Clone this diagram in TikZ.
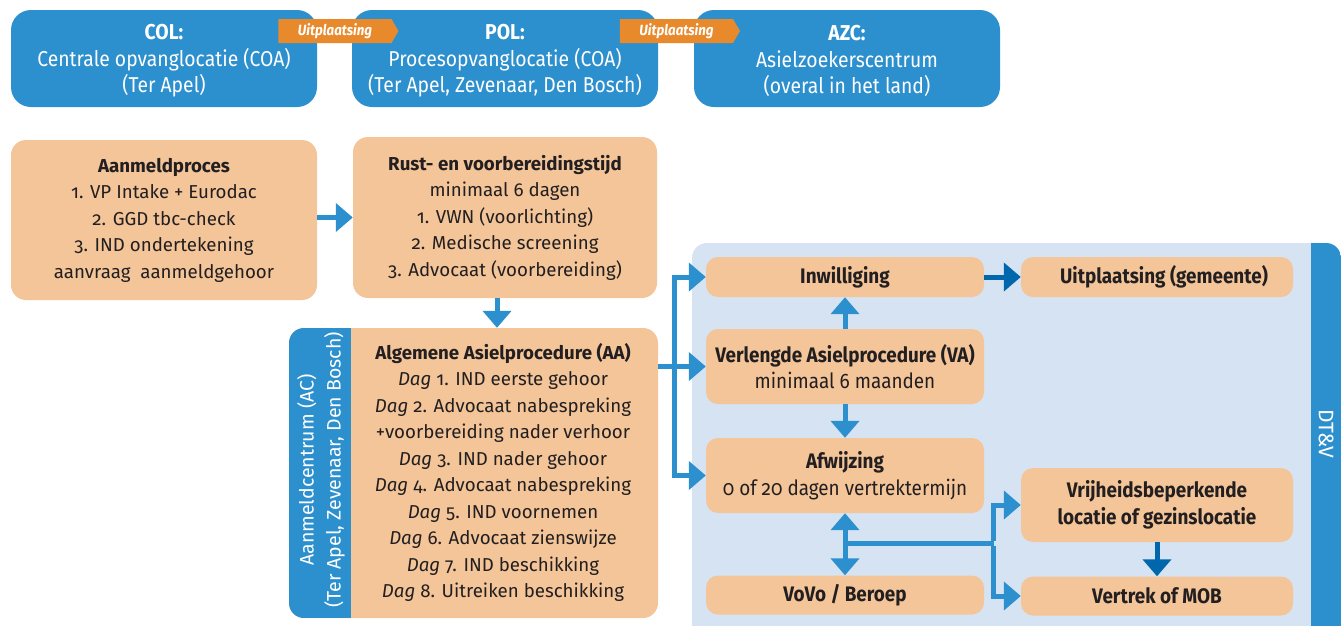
\documentclass[tikz,border=0pt]{standalone}
\usepackage{fontspec}
\setmainfont{Fira Sans}[Numbers=OldStyle]
\newfontfamily\condfont{Fira Sans}[FakeStretch=0.9,Numbers=OldStyle]
\usetikzlibrary{arrows.meta,shapes.symbols}
\definecolor{cblue}{HTML}{2C8FCE}
\definecolor{corange}{HTML}{F3C599}
\definecolor{lightbg}{HTML}{D6E3F3}
\definecolor{tagorange}{HTML}{E8892C}
\definecolor{darkarrow}{HTML}{0067AC}
\definecolor{txt}{HTML}{231F20}
\begin{document}
\begin{tikzpicture}[x=1pt,y=-1pt,
  bluebox/.style={fill=cblue, rounded corners=20pt, minimum width=306pt, minimum height=97pt,
    inner sep=0pt},
  bluetext/.style={text=white, align=center, inner sep=0pt, font=\condfont\fontsize{21.5}{26.5}\selectfont},
  obox/.style={fill=corange, rounded corners=15pt, inner sep=0pt, align=center, text=txt,
    font=\fontsize{18.7}{26.5}\selectfont},
  cbox/.style={obox, rounded corners=12pt, font=\condfont\fontsize{21}{26.5}\selectfont},
  tagbox/.style={signal, signal to=east, signal pointer angle=120, fill=tagorange, text=white,
    minimum width=120pt, minimum height=24pt, inner sep=0pt,
    font=\condfont\fontsize{14.8}{18}\selectfont\bfseries\itshape},
  arr/.style={draw=cblue, line width=5pt, -{Triangle[length=17pt,width=28pt]}},
  arrboth/.style={draw=cblue, line width=5pt, {Triangle[length=17pt,width=28pt]}-{Triangle[length=17pt,width=28pt]}},
  bline/.style={draw=cblue, line width=5pt},
  darr/.style={draw=darkarrow, line width=5pt, -{Triangle[length=17pt,width=28pt]}},
  sidetext/.style={text=white, align=center, font=\fontsize{19.5}{27}\selectfont}
]
\useasboundingbox (0,0) rectangle (1341,625);

% background region
\begin{scope}
  \clip (0,0) rectangle (1341,625);
  \fill[lightbg, rounded corners=15pt] (692,243) rectangle (1341,690);
  \begin{scope}
    \clip[rounded corners=15pt] (692,243) rectangle (1341,690);
    \fill[cblue] (1311,243) rectangle (1341,690);
  \end{scope}
\end{scope}
\node[sidetext, rotate=-90, font=\fontsize{21}{24}\selectfont] (dtv) at (1326,434) {DT\&V};

% top blue boxes
\node[bluebox] (col) at (164,58.5) {};
\node[bluebox] (pol) at (505,58.5) {};
\node[bluebox] (azc) at (847,58.5) {};
\node[bluetext] (coltxt) at (164,61) {\textbf{COL:}\\Centrale opvanglocatie (COA)\\(Ter Apel)};
\node[bluetext] (poltxt) at (505,61) {\textbf{POL:}\\Procesopvanglocatie (COA)\\(Ter Apel, Zevenaar, Den Bosch)};
\node[bluetext] (azctxt) at (847,61) {\textbf{AZC:}\\Asielzoekerscentrum\\(overal in het land)};
\node[tagbox] (tag1) at (335,31) {Uitplaatsing};
\node[tagbox] (tag2) at (676.5,31) {Uitplaatsing};

% left orange boxes
\node[obox, minimum width=306pt, minimum height=160pt] (aan) at (164,220)
  {\textbf{Aanmeldproces}\\1. VP Intake + Eurodac\\2. GGD tbc-check\\3. IND ondertekening\\aanvraag\ \ aanmeldgehoor};
\node[obox, minimum width=304pt, minimum height=161pt] (rust) at (505,217.5)
  {\textbf{Rust- en voorbereidingstijd}\\minimaal 6 dagen\\1. VWN (voorlichting)\\2. Medische screening\\3. Advocaat (voorbereiding)};

% AC / AA box
\node[obox, minimum width=369pt, minimum height=290pt] (acbox) at (473.5,473) {};
\begin{scope}
  \clip[rounded corners=15pt] (289,328) rectangle (658,618);
  \fill[cblue] (289,328) rectangle (351,618);
\end{scope}
\node[sidetext, rotate=90] (aclabel) at (321,470) {Aanmeldcentrum (AC)\\(Ter Apel, Zevenaar, Den Bosch)};
\node[align=center, text=txt, font=\fontsize{18.7}{26.5}\selectfont] (aa) at (503,472.5)
  {\textbf{Algemene Asielprocedure (AA)}\\
   \textit{Dag} 1. IND eerste gehoor\\
   \textit{Dag} 2. Advocaat nabespreking\\
   +voorbereiding nader verhoor\\
   \textit{Dag} 3. IND nader gehoor\\
   \textit{Dag} 4. Advocaat nabespreking\\
   \textit{Dag} 5. IND voornemen\\
   \textit{Dag} 6. Advocaat zienswijze\\
   \textit{Dag} 7. IND beschikking\\
   \textit{Dag} 8. Uitreiken beschikking};

% right region boxes
\node[cbox, minimum width=278pt, minimum height=40pt] (inw) at (845,277) {\textbf{Inwilliging}};
\node[cbox, minimum width=272pt, minimum height=40pt] (uit) at (1157,277) {\hspace*{14pt}\textbf{Uitplaatsing (gemeente)}};
\node[cbox, minimum width=278pt, minimum height=75pt] (va) at (845,366.5) {\textbf{Verlengde Asielprocedure (VA)}\\minimaal 6 maanden};
\node[cbox, minimum width=278pt, minimum height=75pt] (afw) at (845,475.5) {\textbf{Afwijzing}\\0 of 20 dagen vertrektermijn};
\node[cbox, minimum width=272pt, minimum height=74pt] (vrij) at (1157,505) {\textbf{Vrijheidsbeperkende}\\\textbf{locatie of gezinslocatie}};
\node[cbox, minimum width=278pt, minimum height=39pt] (vovo) at (845,595) {\textbf{VoVo / Beroep}};
\node[cbox, minimum width=272pt, minimum height=39pt] (vert) at (1157,596) {\textbf{Vertrek of MOB}};

% connectors
\draw[arr] (rust.west -| aan.east) -- (rust.west);
\draw[arr] ([xshift=-8pt]rust.south) -- ([xshift=-8pt]rust.south |- acbox.north);
\path (va.west) ++(-31,0) coordinate (split);
\draw[bline] (acbox.east |- split) -- (split);
\draw[arr] (split) -- (va.west);
\draw[arr] ([yshift=2.5pt]split) |- (inw.west);
\draw[arr] ([yshift=-2.5pt]split) |- (afw.west);
\draw[arr] (va.north) -- (inw.south);
\draw[arr] (va.south) -- (afw.north);
\draw[arrboth] (afw.south) -- (vovo.north);
\path (afw.south) ++(0,30) coordinate (br);
\path (vrij.west) ++(-27,0) coordinate (brx);
\draw[bline] (br) -- (br -| brx);
\draw[arr] ([yshift=2.5pt]br -| brx) |- (vrij.west);
\draw[arr] ([yshift=-2.5pt]br -| brx) |- (vert.west);
\draw[darr] (inw.east) -- (uit.west);
\draw[darr] (vrij.south) -- (vert.north);
\end{tikzpicture}
\end{document}
